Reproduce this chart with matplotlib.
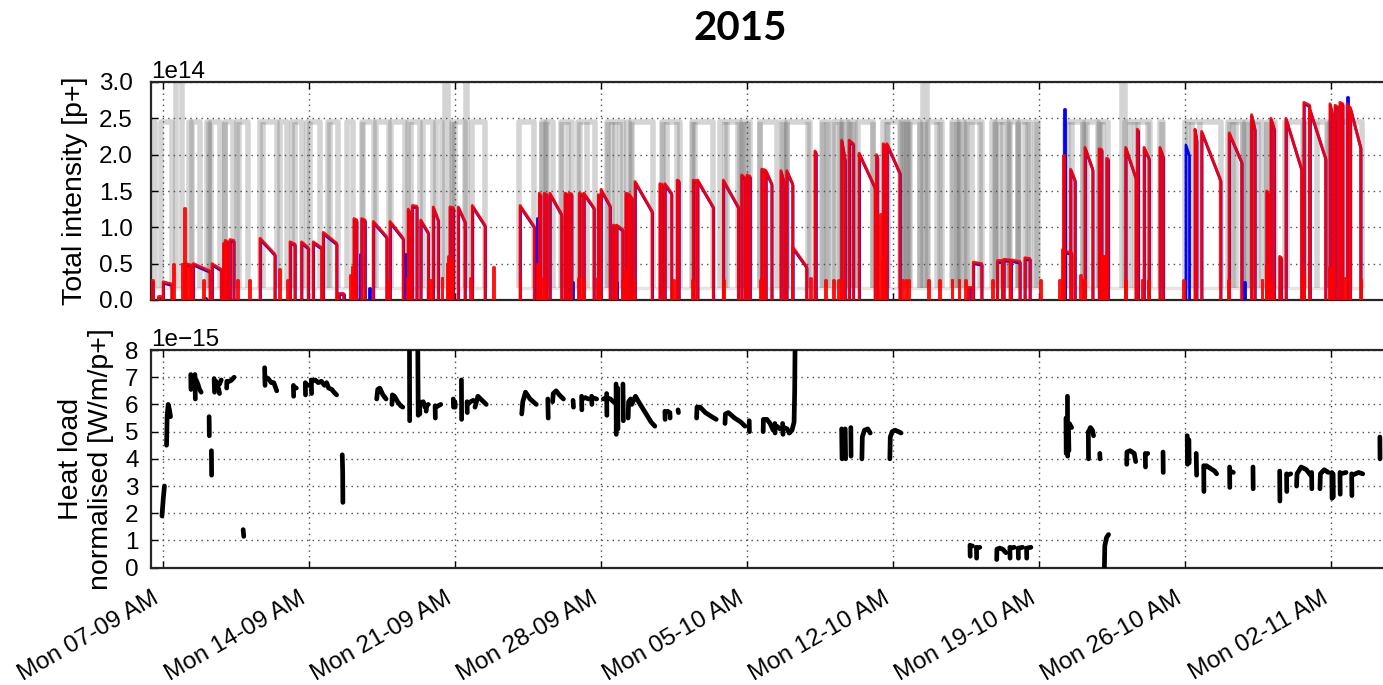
import numpy as np
import matplotlib
matplotlib.use("Agg")
import matplotlib.pyplot as plt
import matplotlib.dates as mdates
from matplotlib.collections import LineCollection
from matplotlib.transforms import offset_copy
from datetime import datetime

plt.rcParams["font.family"] = ["Liberation Sans", "DejaVu Sans"]
plt.rcParams["axes.unicode_minus"] = True

# All times are days after Mon 2015-09-07 00:00
T0 = datetime(2015, 9, 7)
T_MIN, T_MAX = -0.565, 58.95

# ---------------- Beam 2 fills: start/end time and intensity [1e14 p+] ----------------
b2_start = [-0.60, -0.23, 0.02, 1.10, 1.46, 2.36, 2.90, 2.99, 3.22, 4.66, 6.10, 6.65,
            7.21, 7.69, 8.41, 9.16, 9.53, 10.09, 10.89, 11.76, 11.96, 12.36, 12.96, 13.76,
            14.16, 14.83, 17.12, 18.04, 18.28, 18.55, 19.27, 19.48, 19.96, 20.18, 20.87,
            21.00, 21.59, 21.75, 22.19, 22.36, 22.63, 23.82, 24.06, 24.65, 25.42, 25.63, 26.86, 27.74,
            28.00, 28.70, 28.90, 29.62, 29.90, 30.18, 31.25, 32.53, 32.89, 33.37, 34.20, 34.52, 34.70,
            38.60, 38.84, 39.96, 40.30, 40.65, 41.31,
            43.15, 43.20, 43.50, 44.19, 44.87, 45.00, 45.23, 46.14, 46.70, 47.02, 47.78,
            49.46, 49.78, 51.10, 52.17, 52.90, 53.10, 53.52, 53.82, 54.68, 54.97, 55.93,
            56.17, 56.41, 56.75, 56.90]
b2_end = [-0.48, -0.04, 0.43, 1.35, 2.26, 2.80, 2.97, 3.12, 3.40, 5.37, 6.33, 6.97,
          7.61, 8.33, 8.65, 9.29, 9.69, 10.73, 11.52, 11.85, 12.17, 12.72, 13.20, 13.92,
          14.48, 15.44, 17.80, 18.10, 18.40, 19.11, 19.35, 19.59, 20.12, 20.66, 20.95,
          21.43, 21.70, 22.04, 22.31, 22.48, 23.45, 23.93, 24.38, 24.73, 25.58, 26.38, 27.58, 27.90,
          28.14, 28.85, 29.18, 29.78, 30.18, 30.85, 31.30, 32.69, 33.09, 34.13, 34.25, 34.60, 35.32,
          38.76, 39.24, 40.20, 40.60, 41.07, 41.55,
          43.20, 43.55, 43.71, 44.56, 44.99, 45.10, 45.30, 46.63, 46.73, 47.26, 47.94,
          49.54, 50.69, 51.70, 52.33, 53.00, 53.26, 53.60, 54.57, 54.95, 55.72, 56.09,
          56.33, 56.54, 56.90, 57.40]
b2_peak = [0.27, 0.05, 0.25, 0.50, 0.50, 0.50, 0.78, 0.82, 0.83, 0.85, 0.80, 0.80,
           0.80, 0.93, 0.10, 1.12, 1.12, 1.08, 1.08, 1.25, 1.30, 1.10, 1.28, 1.28,
           1.28, 1.30, 1.30, 1.47, 1.47, 1.47, 1.47, 1.47, 1.47, 1.47, 1.45,
           1.52, 1.03, 1.03, 1.47, 1.45, 1.63, 1.60, 1.60, 1.65, 1.65, 1.65, 1.65, 1.72,
           1.72, 1.80, 1.78, 1.78, 1.78, 0.73, 2.05, 2.20, 2.20, 2.02, 2.00, 2.15, 2.15,
           0.18, 0.52, 0.55, 0.56, 0.55, 0.58,
           2.00, 0.67, 1.80, 2.10, 2.08, 0.60, 1.95, 2.10, 2.35, 2.10, 2.10,
           2.35, 2.32, 2.30, 2.55, 1.50, 2.50, 0.60, 2.50, 2.72, 2.62, 2.70,
           2.68, 2.72, 2.70, 2.65]
b2_final = [0.27, 0.05, 0.22, 0.48, 0.40, 0.42, 0.78, 0.80, 0.82, 0.63, 0.77, 0.72,
            0.72, 0.78, 0.10, 1.10, 1.10, 0.87, 0.85, 1.20, 1.29, 0.93, 1.10, 1.27,
            1.08, 1.03, 1.01, 1.45, 1.45, 1.18, 1.46, 1.46, 1.45, 1.27, 1.44,
            1.30, 1.02, 0.97, 1.46, 1.40, 1.22, 1.59, 1.47, 1.64, 1.64, 1.28, 1.28, 1.68,
            1.70, 1.79, 1.60, 1.60, 1.60, 0.46, 2.03, 1.93, 2.15, 1.55, 1.97, 2.13, 1.75,
            0.18, 0.50, 0.55, 0.55, 0.53, 0.57,
            2.00, 0.65, 1.65, 1.80, 2.07, 0.58, 1.94, 1.68, 2.34, 1.95, 1.97,
            2.20, 1.65, 1.90, 2.35, 1.45, 2.35, 0.58, 1.80, 2.68, 1.95, 2.50,
            2.65, 2.70, 2.60, 2.10]

# Short injections that were dumped before stable beams
pilot_time = [0.50, 0.90, 1.03, 1.94, 3.54,
              4.15, 5.58, 5.94, 8.97, 9.05,
              10.81, 12.80, 13.36, 13.60, 13.68,
              13.84, 14.72, 15.84, 17.10, 17.92,
              18.24, 20.15, 22.00, 22.56, 24.46,
              26.86, 28.62, 31.00, 31.73, 32.13,
              32.37, 34.36, 34.45, 35.40, 35.56,
              35.72, 36.68, 37.21, 37.80, 38.13,
              38.44, 39.72, 42.03, 42.96, 43.95,
              44.08, 45.14, 46.10, 46.90, 47.22,
              48.90, 51.06, 52.65, 55.93, 57.40,
              1.00, 1.20, 9.10, 11.70, 18.00,
              19.90, 20.80, 22.15, 25.35, 28.65,
              32.50, 43.10, 44.15, 45.05, 52.85,
              53.05, 54.62, 54.66, 55.88, 56.60]
pilot_height = [0.50, 0.50, 1.26, 0.27, 0.27,
                0.27, 0.43, 0.27, 0.35, 0.45,
                0.27, 0.27, 0.30, 0.50, 0.60,
                0.55, 0.30, 0.45, 0.27, 0.50,
                0.30, 0.27, 0.27, 0.27, 0.27,
                0.27, 0.27, 0.30, 0.27, 0.27,
                0.27, 1.18, 0.55, 0.27, 0.27,
                0.27, 0.27, 0.27, 0.27, 0.27,
                0.27, 0.27, 0.27, 0.27, 0.35,
                0.27, 0.60, 0.27, 0.27, 0.27,
                0.27, 0.27, 0.27, 0.27, 0.27,
                0.50, 0.45, 0.30, 0.30, 0.50,
                0.30, 0.30, 0.40, 0.27, 0.30,
                0.27, 0.70, 0.27, 0.60, 0.50,
                0.27, 0.50, 0.35, 0.45, 0.30]

# Beam 1 where it differs from beam 2
b1_spike_time = [1.99, 9.42, 9.85, 11.60, 12.91, 17.92, 19.43, 19.59, 21.70, 43.15, 51.78, 56.73]
b1_spike_height = [0.05, 0.65, 0.18, 0.65, 0.18, 1.15, 0.27, 0.27, 0.27, 2.65, 0.27, 2.82]
b1_only_start = [49.01]
b1_only_end = [49.18]
b1_only_peak = [2.15]
b1_only_final = [2.00]

# ---------------- Beam energy (scaled to the intensity axis) ----------------
E_INJ, E_TOP, E_OVER = 0.17, 2.45, 3.30
flat_top_start = [-0.58, -0.09, 1.24, 1.40, 2.13, 2.30, 2.98, 3.57, 4.66, 5.62,
                  6.20, 6.93, 7.93, 8.81, 9.53, 10.22, 10.92, 11.76, 12.45, 13.10,
                  13.84, 14.80, 17.08, 18.15, 18.35, 19.07, 19.91, 21.27, 22.23, 22.45,
                  23.90, 25.34, 26.70, 27.74, 28.62, 29.66, 29.90, 31.57, 32.13, 32.55,
                  32.90, 33.33, 34.52, 35.38, 35.55, 35.75, 36.68, 37.80, 38.15, 38.50,
                  39.72, 39.95, 40.55, 41.05, 41.79, 43.23, 44.19, 44.85, 46.10, 47.78,
                  48.98, 51.06, 51.85, 52.20, 52.90, 53.77, 54.70, 55.93, 56.20, 56.45]
flat_top_end = [-0.35, 0.46, 1.34, 1.80, 2.20, 2.74, 3.38, 4.10, 5.49, 5.97,
                6.65, 7.53, 8.41, 9.13, 10.12, 10.86, 11.60, 12.32, 12.96, 13.40,
                14.48, 15.44, 17.80, 18.30, 18.71, 19.59, 20.71, 22.07, 22.35, 23.50,
                24.78, 26.38, 27.66, 28.14, 29.42, 29.80, 31.00, 31.89, 32.50, 32.85,
                33.17, 34.04, 35.32, 35.50, 35.70, 36.28, 37.32, 38.10, 38.40, 39.24,
                39.90, 40.50, 41.00, 41.55, 41.95, 44.10, 44.80, 45.30, 47.30, 47.94,
                50.69, 51.75, 52.15, 52.66, 53.30, 54.65, 55.80, 56.15, 56.40, 57.45]
# extra magnet ramps (up or down) between injection and flat top
ramp_time = [2.20, 3.00, 3.67, 4.82, 6.33, 7.05, 8.00, 9.61, 11.88, 13.92,
             14.00, 18.15, 18.39, 19.11, 19.43, 19.99, 20.31, 21.35, 21.51, 21.67,
             21.91, 22.47, 23.98, 24.14, 24.62, 25.42, 25.50, 26.94, 27.02, 27.58,
             27.82, 27.90, 28.06, 28.62, 29.73, 29.89, 30.93, 31.65, 31.81, 32.21,
             32.45, 32.61, 32.93, 33.09, 34.05, 34.69, 34.77, 35.48, 35.64, 35.80,
             36.28, 36.52, 37.08, 37.24, 37.88, 38.04, 38.20, 38.52, 38.76, 39.16,
             39.88, 40.12, 40.28, 40.60, 41.00, 41.31, 41.47, 41.87, 43.39, 43.55,
             44.11, 44.27, 44.91, 45.07, 46.35, 46.58, 46.74, 47.22, 47.86, 49.14,
             49.30, 49.70, 51.13, 51.29, 51.45, 51.77, 52.01, 52.25, 52.49, 52.89,
             53.21, 53.85, 54.89, 55.29, 55.85, 56.01, 56.89]
over_start = [0.63, 13.50, 14.55, 36.44, 45.95]
over_end = [0.93, 13.67, 14.60, 36.60, 46.10]
no_beam_start = [15.50, 41.98, 57.50]
no_beam_end = [17.05, 43.20, 60.00]

# ---------------- Normalised heat load [1e-15 W/m/p+], one list of traces per week ----------------
hl_wk1 = [
    [(-0.04, 1.9), (0.03, 2.6), (0.08, 3.0)],
    [(0.18, 4.5), (0.21, 5.6), (0.26, 6.0), (0.32, 5.8), (0.37, 5.55)],
    [(1.34, 7.1), (1.35, 6.55)],
    [(1.54, 7.1), (1.56, 6.2)],
    [(1.60, 6.9), (1.68, 6.75), (1.76, 6.55), (1.84, 6.45)],
    [(2.22, 5.55), (2.23, 4.85)],
    [(2.33, 4.3), (2.34, 3.4)],
    [(2.46, 6.95), (2.48, 6.45)],
    [(2.55, 6.85), (2.62, 6.7), (2.68, 6.55), (2.72, 6.4)],
    [(2.72, 6.75), (2.80, 6.9)],
    [(3.06, 6.6), (3.07, 6.85), (3.20, 6.85), (3.30, 6.9), (3.42, 7.0)],
    [(3.85, 1.4), (3.88, 1.15)],
    [(4.88, 7.35), (4.90, 6.7)],
    [(4.92, 7.0), (5.05, 6.95), (5.20, 6.8), (5.32, 6.8), (5.46, 6.5)],
    [(6.26, 6.7), (6.27, 6.3)],
    [(6.28, 6.65), (6.40, 6.6)],
    [(6.83, 6.8), (6.84, 6.35)],
    [(6.86, 6.75), (6.97, 6.7)],
]
hl_wk2 = [
    [(7.12, 6.9), (7.13, 6.4)],
    [(7.15, 6.85), (7.30, 6.9), (7.45, 6.8), (7.60, 6.85), (7.75, 6.7)],
    [(7.85, 6.8), (7.95, 6.6), (8.10, 6.55), (8.20, 6.45), (8.33, 6.35)],
    [(8.60, 4.15), (8.62, 3.5), (8.63, 2.4)],
    [(10.25, 6.2), (10.30, 6.55), (10.40, 6.6), (10.55, 6.35), (10.70, 6.2)],
    [(10.98, 6.0), (11.00, 6.35), (11.10, 6.3), (11.25, 6.1), (11.40, 5.95), (11.50, 5.9)],
    [(11.82, 8.3), (11.83, 5.4)],
    [(12.22, 7.95), (12.24, 5.6)],
    [(12.30, 6.1), (12.32, 5.65)],
    [(12.36, 6.05), (12.48, 6.1), (12.56, 5.9)],
    [(12.62, 5.75), (12.64, 5.95), (12.72, 6.0)],
    [(13.05, 5.95), (13.06, 5.5)],
    [(13.08, 5.9), (13.20, 5.95), (13.32, 6.0)],
    [(13.92, 6.2), (13.93, 5.9)],
]
hl_wk3 = [
    [(14.00, 6.1), (14.01, 5.9)],
    [(14.31, 6.9), (14.32, 5.45)],
    [(14.58, 6.1), (14.59, 5.7)],
    [(14.60, 6.0), (14.75, 6.1), (14.88, 6.15)],
    [(14.96, 5.9), (15.10, 6.3), (15.30, 6.15), (15.50, 6.0)],
    [(17.20, 5.65), (17.25, 6.1), (17.38, 6.45), (17.60, 6.2), (17.90, 6.0)],
    [(18.45, 6.2), (18.47, 5.5)],
    [(18.68, 6.1), (18.71, 6.4), (18.85, 6.5), (19.00, 6.35), (19.20, 6.2)],
    [(19.66, 6.15), (19.68, 5.9)],
    [(20.07, 6.3), (20.08, 5.8)],
    [(20.10, 6.2), (20.25, 6.25), (20.39, 6.2)],
    [(20.55, 6.3), (20.56, 6.0)],
    [(20.58, 6.25), (20.79, 6.2)],
    [(21.11, 6.2), (21.27, 6.25), (21.45, 6.2), (21.59, 6.1)],
    [(21.27, 6.4), (21.28, 5.6)],
    [(21.72, 6.75), (21.73, 4.9)],
    [(21.80, 6.6), (21.81, 5.1)],
    [(22.05, 6.75), (22.07, 5.4)],
]
hl_wk4 = [
    [(22.30, 5.5), (22.32, 6.1), (22.42, 6.2)],
    [(22.47, 6.0), (22.65, 6.3), (22.80, 6.1), (23.00, 5.85), (23.20, 5.6), (23.40, 5.35), (23.58, 5.2)],
    [(24.06, 5.75), (24.07, 5.45)],
    [(24.10, 5.7), (24.20, 5.75)],
    [(24.30, 5.7), (24.31, 5.5)],
    [(24.69, 5.8), (24.71, 5.7)],
    [(25.58, 5.5), (25.60, 5.9), (25.75, 5.9), (26.00, 5.7), (26.30, 5.55), (26.52, 5.45)],
    [(26.94, 5.3), (26.96, 5.65), (27.10, 5.7), (27.40, 5.5), (27.70, 5.35), (27.90, 5.2)],
]
hl_wk5 = [
    [(28.10, 5.4), (28.11, 5.0)],
    [(28.77, 5.0), (28.78, 5.45), (28.95, 5.45), (29.10, 5.3), (29.25, 5.05)],
    [(29.33, 5.3), (29.34, 4.95)],
    [(29.42, 5.2), (29.58, 5.1)],
    [(29.70, 5.3), (29.72, 4.9)],
    [(29.78, 5.15), (29.92, 5.1), (30.02, 4.95)],
    [(30.02, 4.95), (30.15, 5.05), (30.25, 5.35), (30.28, 6.5), (30.30, 8.3)],
    [(32.53, 5.1), (32.55, 4.0)],
    [(32.70, 5.1), (32.72, 4.0)],
    [(32.97, 5.15), (32.98, 4.1)],
    [(33.50, 4.0), (33.52, 4.8), (33.62, 5.05), (33.78, 5.1), (33.90, 4.95)],
    [(34.84, 4.0), (34.86, 4.8), (34.95, 5.0), (35.10, 5.05), (35.25, 5.0), (35.38, 4.95)],
]
hl_wk6 = [
    [(38.68, 0.83), (38.69, 0.42)],
    [(38.70, 0.78), (38.80, 0.8)],
    [(38.99, 0.75), (39.00, 0.35)],
    [(39.01, 0.72), (39.15, 0.75)],
    [(39.96, 0.3), (39.97, 0.68), (40.10, 0.72), (40.25, 0.68), (40.40, 0.55)],
    [(40.59, 0.75), (40.60, 0.35)],
    [(40.62, 0.72), (40.80, 0.75)],
    [(40.99, 0.72), (41.00, 0.35)],
    [(41.02, 0.72), (41.20, 0.75)],
    [(41.39, 0.72), (41.40, 0.35)],
    [(41.42, 0.72), (41.60, 0.75)],
]
hl_wk7 = [
    [(43.28, 5.5), (43.29, 4.2)],
    [(43.35, 6.3), (43.36, 4.1)],
    [(43.40, 5.2), (43.42, 4.3)],
    [(43.44, 5.3), (43.55, 5.15)],
    [(44.35, 5.0), (44.36, 4.0)],
    [(44.37, 5.0), (44.45, 5.15), (44.55, 5.05), (44.60, 4.85)],
    [(44.90, 4.2), (44.91, 4.0)],
    [(45.12, 0.0), (45.14, 0.8), (45.22, 1.1), (45.32, 1.22)],
    [(46.19, 3.8), (46.20, 4.25), (46.35, 4.3), (46.55, 4.2), (46.62, 3.9)],
    [(47.08, 4.2), (47.09, 3.7)],
    [(47.10, 4.15), (47.20, 4.2)],
    [(47.93, 4.25), (47.94, 3.5)],
]
hl_wk8 = [
    [(49.09, 4.85), (49.10, 3.8)],
    [(49.17, 4.7), (49.18, 3.85)],
    [(49.52, 4.2), (49.54, 3.4)],
    [(49.88, 3.75), (49.89, 2.8)],
    [(49.90, 3.65), (50.00, 3.75), (50.20, 3.65), (50.40, 3.55), (50.50, 3.45)],
    [(51.12, 3.7), (51.13, 2.95)],
    [(51.15, 3.55), (51.30, 3.5)],
    [(52.24, 3.7), (52.25, 2.9)],
    [(53.52, 3.55), (53.53, 2.45)],
    [(53.85, 3.45), (53.86, 2.8)],
    [(53.87, 3.4), (54.05, 3.45)],
    [(54.33, 3.0), (54.35, 3.45), (54.55, 3.7), (54.80, 3.6), (55.00, 3.4)],
    [(55.05, 3.5), (55.06, 2.9)],
    [(55.45, 2.9), (55.47, 3.45), (55.65, 3.6), (55.85, 3.5)],
    [(56.02, 3.5), (56.03, 2.55)],
    [(56.08, 3.45), (56.09, 2.6)],
]
hl_wk9 = [
    [(56.41, 3.5), (56.42, 2.7)],
    [(56.43, 3.45), (56.70, 3.5)],
    [(56.97, 3.45), (56.98, 2.65)],
    [(57.00, 3.4), (57.30, 3.5), (57.50, 3.45)],
    [(58.32, 4.8), (58.33, 4.0)],
]

# ---------------- helpers ----------------
def dnum(days):
    return mdates.date2num(T0) + np.asarray(days, dtype=float)


def fill_paths(t0s, t1s, peaks, finals, scale=1e14):
    out = []
    for a, b, p, f in zip(t0s, t1s, peaks, finals):
        xa, xb = dnum([a, b])
        out.append([(xa, 0.0), (xa, p * scale), (xb, f * scale), (xb, 0.0)])
    return out


def spike_paths(ts, hs, width=0.04, scale=1e14):
    out = []
    for t, h in zip(ts, hs):
        xa, xb = dnum([t, t + width])
        out.append([(xa, 0.0), (xa, h * scale), (xb, h * scale), (xb, 0.0)])
    return out


def plateau_paths(t0s, t1s, level, base, scale=1e14):
    out = []
    for a, b in zip(t0s, t1s):
        xa, xb = dnum([a, b])
        out.append([(xa, base * scale), (xa, level * scale), (xb, level * scale), (xb, base * scale)])
    return out


def vertical_paths(ts, lo, hi, scale=1e14):
    return [[(x, lo * scale), (x, hi * scale)] for x in dnum(ts)]


def baseline_paths(level, gaps_start, gaps_end, scale=1e14):
    out = []
    edges = [T_MIN - 1] + [v for pair in zip(gaps_start, gaps_end) for v in pair] + [T_MAX + 1]
    for a, b in zip(edges[0::2], edges[1::2]):
        xa, xb = dnum([a, b])
        out.append([(xa, level * scale), (xb, level * scale)])
    return out


# ---------------- figure ----------------
W, H = 1383, 685
fig = plt.figure(figsize=(W / 100, H / 100), dpi=100)
ax1 = fig.add_axes([151 / W, (H - 300) / H, (1393 - 151) / W, 218 / H])
ax2 = fig.add_axes([151 / W, (H - 567.7) / H, (1393 - 151) / W, 217.7 / H], sharex=ax1)

# energy
gray_kw = dict(colors=(0.45, 0.45, 0.45), alpha=0.3, linewidths=4.0, zorder=1)
ax1.add_collection(LineCollection(baseline_paths(E_INJ, no_beam_start, no_beam_end),
                                  colors=(0.5, 0.5, 0.5), alpha=0.2, linewidths=2.5, zorder=1))
ax1.add_collection(LineCollection(plateau_paths(flat_top_start, flat_top_end, E_TOP, E_INJ), **gray_kw))
ax1.add_collection(LineCollection(plateau_paths(over_start, over_end, E_OVER, E_INJ), **gray_kw))
ax1.add_collection(LineCollection(vertical_paths(ramp_time, E_INJ, E_TOP), **gray_kw))

# beam 1 (blue) underneath beam 2 (red)
b1_trans = offset_copy(ax1.transData, fig=fig, x=0.3, y=-1.1, units="points")
b1_paths = (fill_paths(b2_start, b2_end, b2_peak, b2_final)
            + fill_paths(b1_only_start, b1_only_end, b1_only_peak, b1_only_final)
            + spike_paths(b1_spike_time, b1_spike_height))
ax1.add_collection(LineCollection(b1_paths, colors="#0000ff", linewidths=2.0,
                                  transform=b1_trans, zorder=2))
b2_paths = fill_paths(b2_start, b2_end, b2_peak, b2_final) + spike_paths(pilot_time, pilot_height)
ax1.add_collection(LineCollection(b2_paths, colors="#ff0000", alpha=0.92, linewidths=2.1, zorder=3))

# heat load
for week in (hl_wk1, hl_wk2, hl_wk3, hl_wk4, hl_wk5, hl_wk6, hl_wk7, hl_wk8, hl_wk9):
    for trace in week:
        days, load = zip(*trace)
        ax2.plot(dnum(days), np.array(load) * 1e-15, color="k", lw=3.4,
                 solid_capstyle="round", solid_joinstyle="round", zorder=3)

# axes styling
ax1.set_xlim(dnum(T_MIN), dnum(T_MAX))
ax1.set_ylim(0, 3.0e14)
ax1.set_yticks(np.arange(0, 3.01, 0.5) * 1e14)
ax2.set_ylim(0, 8e-15)
ax2.set_yticks(np.arange(0, 8.01, 1) * 1e-15)

ax2.xaxis.set_major_locator(mdates.WeekdayLocator(byweekday=mdates.MO))
ax2.xaxis.set_major_formatter(mdates.DateFormatter("%a %d-%m %p"))

for ax in (ax1, ax2):
    for sp in ax.spines.values():
        sp.set_linewidth(1.6)
        sp.set_color("0.15")
    ax.grid(True, color="0.3", linestyle=(0, (1, 3)), linewidth=1.0)
    ax.tick_params(direction="in", top=True, right=True, length=5, width=1, labelsize=17.5)
    ax.yaxis.get_offset_text().set_fontsize(17.5)

ax1.tick_params(axis="y", pad=13)
ax2.tick_params(axis="y", pad=9)
ax2.tick_params(axis="x", pad=14)
ax1.tick_params(labelbottom=False)
plt.setp(ax2.get_xticklabels(), rotation=30, ha="right")

ax1.set_ylabel("Total intensity [p+]", fontsize=20.5)
ax2.set_ylabel("Heat load\nnormalised [W/m/p+]", fontsize=20.5, ha="center")
ax1.yaxis.set_label_coords(-0.051, 0.5)
ax2.yaxis.set_label_coords(-0.030, 0.5)

fig.text(740 / W, 1 - 28 / H, "2015", ha="center", va="center",
         fontsize=29, fontweight="bold", family=["Lato", "DejaVu Sans"])

fig.savefig("out.png", dpi=100)
